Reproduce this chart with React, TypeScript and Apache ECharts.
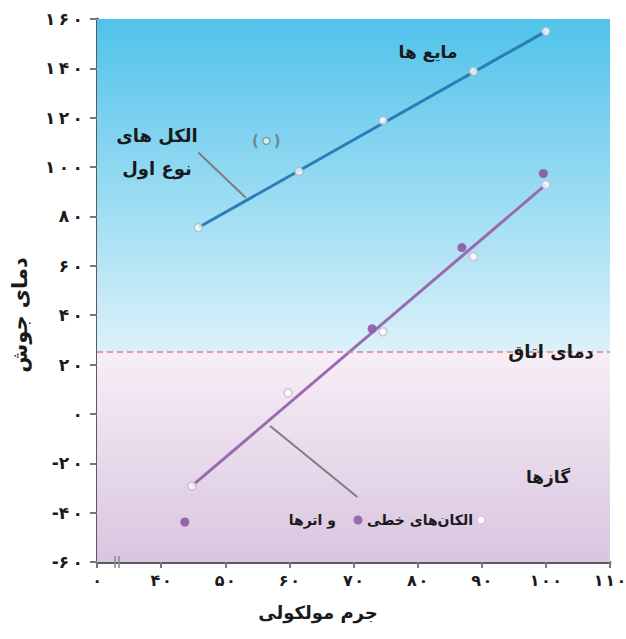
import React, { useEffect, useRef } from "react";
import * as echarts from "echarts";

const yTicks = [-60, -40, -20, 0, 20, 40, 60, 80, 100, 120, 140, 160];
const xTicks = [30, 40, 50, 60, 70, 80, 90, 100, 110];

const alcoholMass = [45.8, 61.5, 74.6, 88.7, 100.0];
const alcoholBp = [75.5, 98.2, 118.9, 138.8, 155];

const alkaneMass = [44.8, 59.8, 74.6, 88.7, 100.0];
const alkaneBp = [-29.2, 8.5, 33.3, 63.7, 92.9];

const etherMass = [43.7, 72.9, 86.9, 99.6];
const etherBp = [-43.8, 34.5, 67.4, 97.4];

const oddMass = [56.4];
const oddBp = [110.6];

const roomTemp = 25;

const alcoholPointer = [[45.8, 105.9], [53.2, 87.6]];
const alkanePointer = [[57.0, -4.9], [70.6, -33.7]];

const FA = "۰۱۲۳۴۵۶۷۸۹";
const toFa = (n: number, sep = "\u2009") =>
  String(n)
    .split("")
    .map((d) => FA[+d])
    .join(sep);

const FONT = "DejaVu Sans";

export default function App() {
  const ref = useRef<HTMLDivElement>(null);
  useEffect(() => {
    document.body.style.margin = "0";
    const chart = echarts.init(ref.current!, null, { renderer: "svg" });
    const textStyle = (size: number) => ({
      fontFamily: FONT,
      fontWeight: "bold",
      fontSize: size,
      fill: "#1a1a1a",
    });
    const txt = (x: number, y: number, size: number, text: string, align = "center") => ({
      type: "text",
      x,
      y,
      z: 100,
      style: { ...textStyle(size), text, align, verticalAlign: "middle" },
    });
    chart.setOption({
      animation: false,
      backgroundColor: "#ffffff",
      grid: { left: 97, right: 16, top: 19, bottom: 77, containLabel: false, outerBoundsMode: "none" },
      xAxis: {
        type: "value",
        min: 30,
        max: 110,
        interval: 10,
        axisLine: { show: true, onZero: false, lineStyle: { color: "#5a5a5a", width: 3 } },
        axisTick: { show: true, length: 6, lineStyle: { color: "#777", width: 2 } },
        splitLine: { show: false },
        axisLabel: {
          margin: 10,
          fontFamily: FONT,
          fontSize: 16,
          fontWeight: "bold",
          color: "#1a1a1a",
          formatter: (v: number) => (v === 30 ? toFa(0) : toFa(v, "\u200A")),
        },
      },
      yAxis: {
        type: "value",
        min: -60,
        max: 160,
        interval: 20,
        axisLine: { show: true, onZero: false, lineStyle: { color: "#5a5a5a", width: 3 } },
        axisTick: { show: true, length: 7, lineStyle: { color: "#777", width: 2 } },
        splitLine: { show: false },
        axisLabel: {
          margin: 14,
          fontFamily: FONT,
          fontSize: 17,
          fontWeight: "bold",
          color: "#1a1a1a",
          formatter: (v: number) => (v < 0 ? "-" + toFa(-v) : toFa(v)),
        },
      },
      series: [
        {
          type: "line",
          name: "bg",
          data: [],
          silent: true,
          markArea: {
            silent: true,
            data: [
              [
                {
                  yAxis: roomTemp,
                  xAxis: 30,
                  itemStyle: {
                    color: new echarts.graphic.LinearGradient(0, 0, 0, 1, [
                      { offset: 0, color: "#50c3ea" },
                      { offset: 1, color: "#dcf1fa" },
                    ]),
                  },
                },
                { yAxis: 160, xAxis: 110 },
              ],
              [
                {
                  yAxis: -60,
                  xAxis: 30,
                  itemStyle: {
                    color: new echarts.graphic.LinearGradient(0, 0, 0, 1, [
                      { offset: 0, color: "#f7eef6" },
                      { offset: 1, color: "#d9c5e0" },
                    ]),
                  },
                },
                { yAxis: roomTemp, xAxis: 110 },
              ],
            ],
          },
          markLine: {
            silent: true,
            symbol: "none",
            label: { show: false },
            lineStyle: { color: "#e27a98", type: [6, 4], width: 1.5 },
            data: [{ yAxis: roomTemp }],
          },
          z: 0,
        },
        {
          type: "line",
          data: alcoholPointer,
          symbol: "none",
          lineStyle: { color: "#7d7d7d", width: 2 },
          z: 2,
        },
        {
          type: "line",
          data: alkanePointer,
          symbol: "none",
          lineStyle: { color: "#857a80", width: 2 },
          z: 2,
        },
        {
          type: "line",
          data: [
            [alcoholMass[0], alcoholBp[0]],
            [alcoholMass[alcoholMass.length - 1], alcoholBp[alcoholBp.length - 1]],
          ],
          symbol: "none",
          lineStyle: { color: "#2b7db8", width: 3 },
          z: 3,
        },
        {
          type: "line",
          data: [
            [alkaneMass[0], alkaneBp[0]],
            [alkaneMass[alkaneMass.length - 1], alkaneBp[alkaneBp.length - 1]],
          ],
          symbol: "none",
          lineStyle: { color: "#9a6ab0", width: 3 },
          z: 3,
        },
        {
          type: "scatter",
          data: etherMass.map((m, i) => [m, etherBp[i]]),
          symbol: "circle",
          symbolSize: 9,
          itemStyle: { color: "#8c58a6", opacity: 0.9 },
          z: 4,
        },
        {
          type: "scatter",
          data: alcoholMass.map((m, i) => [m, alcoholBp[i]]),
          symbol: "circle",
          symbolSize: 8,
          itemStyle: { color: "#ffffff", borderColor: "#a9b8c4", borderWidth: 1.5 },
          z: 5,
        },
        {
          type: "scatter",
          data: alkaneMass.map((m, i) => [m, alkaneBp[i]]),
          symbol: "circle",
          symbolSize: 8,
          itemStyle: { color: "#ffffff", borderColor: "#c9b4d2", borderWidth: 1.5 },
          z: 5,
        },
        {
          type: "scatter",
          data: oddMass.map((m, i) => [m, oddBp[i]]),
          symbol: "circle",
          symbolSize: 7,
          itemStyle: { color: "#e8f4fa", borderColor: "#7a8a96", borderWidth: 1.5 },
          label: {
            show: true,
            position: "inside",
            formatter: "(\u2002\u2002)",
            fontFamily: FONT,
            fontSize: 15,
            fontWeight: "bold",
            color: "#6a747c",
          },
          z: 5,
        },
      ],
      graphic: [
        txt(428, 52, 17, "مایع ها"),
        txt(157, 135, 18, "الکل های"),
        txt(157, 168, 18, "نوع اول"),
        txt(551, 351, 18, "دمای اتاق"),
        txt(548, 477, 17, "گازها"),
        { type: "circle", z: 100, shape: { cx: 481, cy: 520, r: 4 }, style: { fill: "#ffffff", stroke: "#d6c6dc", lineWidth: 1.5 } },
        txt(473, 520, 14, "الکان‌های خطی", "right"),
        { type: "circle", z: 100, shape: { cx: 358, cy: 520, r: 4.5 }, style: { fill: "#9a6ab0" } },
        txt(336, 520, 14, "و اترها", "right"),
        txt(318, 612, 18, "جرم مولکولی"),
        {
          type: "text",
          x: 20,
          y: 315,
          z: 100,
          rotation: Math.PI / 2,
          style: { ...textStyle(21), text: "دمای جوش", align: "center", verticalAlign: "middle" },
        },
        { type: "line", z: 100, shape: { x1: 115, y1: 556, x2: 115, y2: 568 }, style: { stroke: "#8a8a8a", lineWidth: 1.5 } },
        { type: "line", z: 100, shape: { x1: 119, y1: 556, x2: 119, y2: 568 }, style: { stroke: "#8a8a8a", lineWidth: 1.5 } },
      ],
    });
    return () => chart.dispose();
  }, []);
  return <div ref={ref} style={{ width: 626, height: 639 }} />;
}
